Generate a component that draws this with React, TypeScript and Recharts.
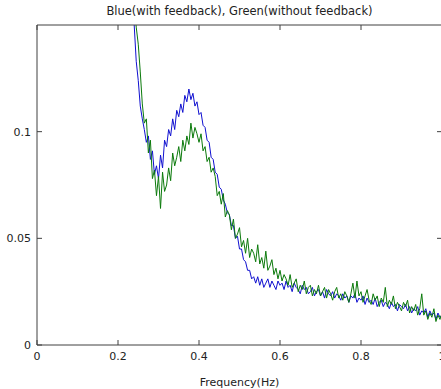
import { LineChart, Line, XAxis, YAxis, Label } from "recharts";

// frequency grid (Hz)
const freqs = [
  0.235, 0.24, 0.245, 0.25, 0.255, 0.26, 0.265, 0.27, 0.275, 0.28, 0.285, 0.29, 0.295, 0.3,
  0.305, 0.31, 0.315, 0.32, 0.325, 0.33, 0.335, 0.34, 0.345, 0.35, 0.355, 0.36, 0.365, 0.37,
  0.375, 0.38, 0.385, 0.39, 0.395, 0.4, 0.405, 0.41, 0.415, 0.42, 0.425, 0.43, 0.435, 0.44,
  0.445, 0.45, 0.455, 0.46, 0.465, 0.47, 0.475, 0.48, 0.485, 0.49, 0.495, 0.5, 0.505, 0.51,
  0.515, 0.52, 0.525, 0.53, 0.535, 0.54, 0.545, 0.55, 0.555, 0.56, 0.565, 0.57, 0.575, 0.58,
  0.585, 0.59, 0.595, 0.6, 0.605, 0.61, 0.615, 0.62, 0.625, 0.63, 0.635, 0.64, 0.645, 0.65,
  0.655, 0.66, 0.665, 0.67, 0.675, 0.68, 0.685, 0.69, 0.695, 0.7, 0.705, 0.71, 0.715, 0.72,
  0.725, 0.73, 0.735, 0.74, 0.745, 0.75, 0.755, 0.76, 0.765, 0.77, 0.775, 0.78, 0.785, 0.79,
  0.795, 0.8, 0.805, 0.81, 0.815, 0.82, 0.825, 0.83, 0.835, 0.84, 0.845, 0.85, 0.855, 0.86,
  0.865, 0.87, 0.875, 0.88, 0.885, 0.89, 0.895, 0.9, 0.905, 0.91, 0.915, 0.92, 0.925, 0.93,
  0.935, 0.94, 0.945, 0.95, 0.955, 0.96, 0.965, 0.97, 0.975, 0.98, 0.985, 0.99, 0.995, 1.0,
];

// with feedback
const blueVals = [
  0.165, 0.15, 0.133, 0.124, 0.112, 0.106, 0.101, 0.095, 0.098, 0.087, 0.091, 0.08, 0.084, 0.078,
  0.089, 0.083, 0.096, 0.093, 0.101, 0.098, 0.106, 0.101, 0.11, 0.107, 0.113, 0.109, 0.117, 0.114,
  0.12, 0.115, 0.118, 0.112, 0.114, 0.108, 0.109, 0.103, 0.102, 0.096, 0.095, 0.088, 0.087, 0.081,
  0.08, 0.074, 0.073, 0.068, 0.066, 0.062, 0.061, 0.056, 0.056, 0.05, 0.051, 0.045, 0.045, 0.04,
  0.039, 0.035, 0.035, 0.031, 0.032, 0.029, 0.032, 0.028, 0.031, 0.027, 0.029, 0.031, 0.027, 0.03,
  0.028, 0.026, 0.03, 0.028, 0.029, 0.026, 0.03, 0.027, 0.028, 0.025, 0.029, 0.027, 0.026, 0.024,
  0.028, 0.026, 0.027, 0.024, 0.025, 0.027, 0.023, 0.025, 0.026, 0.023, 0.025, 0.022, 0.026, 0.024,
  0.023, 0.025, 0.022, 0.024, 0.023, 0.021, 0.024, 0.022, 0.023, 0.02, 0.023, 0.022, 0.024, 0.02,
  0.022, 0.021, 0.023, 0.019, 0.022, 0.02, 0.021, 0.019, 0.022, 0.018, 0.02, 0.021, 0.018, 0.02,
  0.019, 0.017, 0.02, 0.018, 0.019, 0.016, 0.019, 0.018, 0.017, 0.019, 0.016, 0.018, 0.015, 0.017,
  0.016, 0.018, 0.014, 0.016, 0.015, 0.017, 0.013, 0.016, 0.014, 0.015, 0.012, 0.015, 0.013, 0.014,
];

// without feedback
const greenVals = [
  0.175, 0.16, 0.149, 0.141, 0.128, 0.113, 0.104, 0.106, 0.09, 0.096, 0.078, 0.082, 0.07, 0.079,
  0.064, 0.081, 0.072, 0.075, 0.083, 0.077, 0.09, 0.084, 0.088, 0.093, 0.086, 0.096, 0.091, 0.098,
  0.094, 0.104, 0.097, 0.102, 0.099, 0.095, 0.099, 0.091, 0.093, 0.086, 0.088, 0.081, 0.083, 0.079,
  0.07, 0.072, 0.066, 0.071, 0.06, 0.063, 0.061, 0.054, 0.059, 0.05, 0.052, 0.055, 0.046, 0.049,
  0.043, 0.05, 0.041, 0.045, 0.043, 0.039, 0.047, 0.038, 0.041, 0.036, 0.044, 0.035, 0.037, 0.04,
  0.033, 0.036, 0.031, 0.035, 0.03, 0.033, 0.031, 0.028, 0.033, 0.027, 0.029, 0.031, 0.025, 0.028,
  0.026, 0.03, 0.024, 0.027, 0.028, 0.023, 0.026, 0.024, 0.028, 0.023, 0.025, 0.027, 0.022, 0.026,
  0.024, 0.021, 0.025, 0.027, 0.022, 0.024, 0.021, 0.025, 0.023, 0.02, 0.024, 0.029, 0.022, 0.03,
  0.023, 0.025, 0.02, 0.023, 0.026, 0.021, 0.019, 0.024, 0.021, 0.023, 0.018, 0.022, 0.02, 0.027,
  0.018, 0.021, 0.019, 0.023, 0.017, 0.02, 0.018, 0.016, 0.02, 0.018, 0.021, 0.015, 0.018, 0.016,
  0.019, 0.014, 0.017, 0.024, 0.014, 0.016, 0.012, 0.015, 0.013, 0.017, 0.011, 0.014, 0.012, 0.015,
];

const xTicks = [0, 0.2, 0.4, 0.6, 0.8, 1];
const yTicks = [0, 0.05, 0.1];

const data = freqs.map((f, i) => ({ f, blue: blueVals[i], green: greenVals[i] }));

const axisColor = "#404040";
const font = { fontFamily: "DejaVu Sans", fontSize: 11, fill: "#222" };

export default function App() {
  return (
    <div
      style={{
        position: "absolute",
        left: 0,
        top: 0,
        width: 441,
        height: 389,
        overflow: "hidden",
        background: "#fff",
      }}
    >
      <div
        style={{
          position: "absolute",
          left: 37,
          width: 405,
          top: 4,
          textAlign: "center",
          fontFamily: "DejaVu Sans",
          fontSize: 11.5,
          color: "#222",
        }}
      >
        Blue(with feedback), Green(without feedback)
      </div>
      <LineChart
        width={460}
        height={389}
        data={data}
        margin={{ top: 24, right: 17, bottom: 0, left: 0 }}
      >
        <XAxis
          xAxisId="bottom"
          dataKey="f"
          type="number"
          domain={[0, 1]}
          ticks={xTicks}
          height={44}
          stroke={axisColor}
          tickSize={-5}
          tickMargin={12}
          tick={font}
        >
          <Label
            value="Frequency(Hz)"
            position="insideBottom"
            offset={3}
            style={{ fontFamily: "DejaVu Sans", fontSize: 11, fill: "#222" }}
          />
        </XAxis>
        <XAxis
          xAxisId="top"
          orientation="top"
          dataKey="f"
          type="number"
          domain={[0, 1]}
          ticks={xTicks}
          height={1}
          stroke={axisColor}
          tickSize={-5}
          tickFormatter={() => ""}
        />
        <YAxis
          yAxisId="left"
          type="number"
          domain={[0, 0.15]}
          allowDataOverflow
          ticks={yTicks}
          width={37}
          stroke={axisColor}
          tickSize={-5}
          tickMargin={11}
          tick={font}
        />
        <YAxis
          yAxisId="right"
          orientation="right"
          type="number"
          domain={[0, 0.15]}
          allowDataOverflow
          ticks={yTicks}
          width={1}
          stroke={axisColor}
          tickSize={-5}
          tickFormatter={() => ""}
        />
        <Line
          xAxisId="bottom"
          yAxisId="left"
          type="linear"
          dataKey="blue"
          stroke="#1010d0"
          strokeWidth={1}
          dot={false}
          isAnimationActive={false}
        />
        <Line
          xAxisId="bottom"
          yAxisId="left"
          type="linear"
          dataKey="green"
          stroke="#0b7a0b"
          strokeWidth={1}
          dot={false}
          isAnimationActive={false}
        />
      </LineChart>
    </div>
  );
}
